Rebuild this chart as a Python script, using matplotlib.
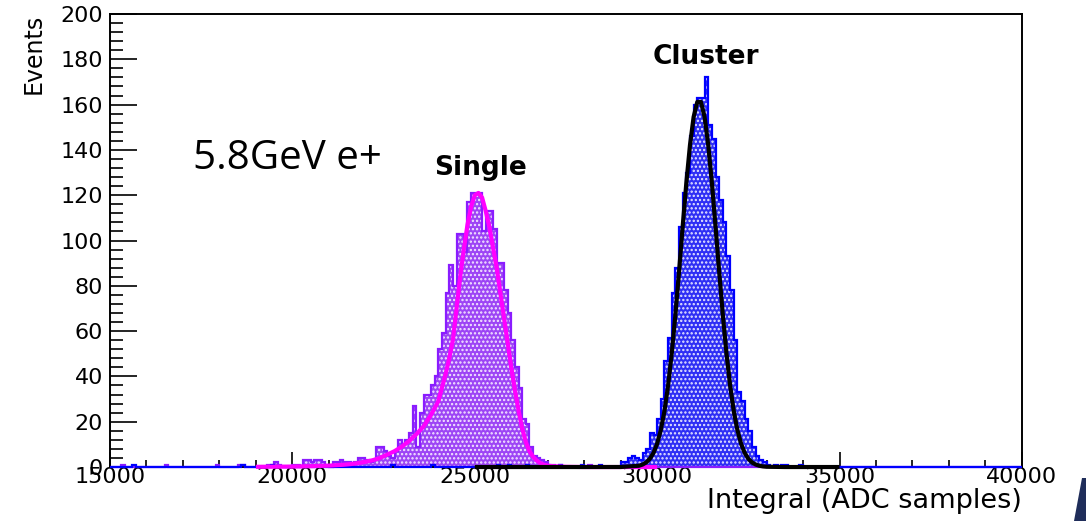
import numpy as np
import matplotlib
matplotlib.use("Agg")
import matplotlib.pyplot as plt
from matplotlib.patches import Polygon

# histogram binning (ROOT style, 100 ADC per bin)
x_lo, x_hi, bin_w = 15000, 40000, 100

# "Single" histogram, contiguous part starting at 18500
single_start = 18500
single_counts = [1, 1, 0, 0, 0, 0, 0, 0, 1, 1,          # 18500
                 2, 1, 0, 0, 0, 1, 1, 0, 3, 3,          # 19500
                 2, 3, 3, 2, 1, 0, 2, 2, 3, 2,          # 20500
                 2, 1, 2, 4, 4, 3, 2, 3, 9, 9,          # 21500
                 7, 5, 4, 7, 12, 10, 12, 15, 27, 9,     # 22500
                 24, 32, 32, 36, 40, 52, 59, 77, 89, 80,  # 23500
                 103, 103, 95, 117, 121, 121, 121, 104, 113, 113,  # 24500
                 105, 90, 90, 78, 68, 56, 44, 35, 21, 19,  # 25500
                 9, 5, 4, 3, 2, 1, 1, 0, 1, 0]          # 26500
single_sparse = [15300, 16500, 17900, 28100]

# "Cluster" histogram, contiguous part starting at 29000
cluster_start = 29000
cluster_counts = [2, 2, 4, 5, 4, 3, 6, 8, 15, 14,          # 29000
                  21, 30, 47, 57, 77, 88, 106, 121, 130, 146,  # 30000
                  160, 163, 163, 172, 151, 145, 128, 118, 108, 93,  # 31000
                  78, 56, 33, 29, 21, 16, 9, 5, 3, 2,        # 32000
                  1, 0, 1, 0, 1, 1, 0, 0, 0, 1]             # 33000
cluster_sparse = [15600, 18600, 19400, 22700, 23800, 25600, 25900,
                  26400, 27300, 27900, 28400]

# fit curves
single_fit_x = [19000, 20000, 20600, 21000, 21200, 21400, 21600, 21800, 22000,
                22200, 22400, 22600, 22800, 23000, 23200, 23400, 23600, 23800,
                24000, 24100, 24200, 24300, 24400, 24500, 24600, 24700, 24800,
                24900, 25000, 25100, 25200, 25300, 25400, 25500, 25600, 25700,
                25800, 25900, 26000, 26100, 26200, 26300, 26400, 26500, 26600,
                26700, 26800, 26900, 27000, 27200, 27500, 28000, 30000]
single_fit_y = [0.1, 0.2, 0.4, 0.6, 0.8, 1.0, 1.3, 1.7, 2.3,
                3.0, 4.0, 5.5, 7.0, 9.0, 11.5, 14.5, 18, 23,
                29, 35, 41, 48, 56, 70, 84, 96, 107,
                115, 120, 121, 119, 113, 106, 97, 88, 77,
                66, 55, 44, 34, 25, 17, 11, 7, 4.5,
                2.8, 1.7, 1.0, 0.6, 0.3, 0.1, 0.0, 0.0]

cluster_fit_x = [25000, 28000, 29000, 29500, 29600, 29700, 29800, 29900, 30000,
                 30100, 30200, 30300, 30400, 30500, 30600, 30700, 30800, 30900,
                 31000, 31100, 31200, 31300, 31400, 31500, 31600, 31700, 31800,
                 31900, 32000, 32100, 32200, 32300, 32400, 32500, 32600, 32700,
                 32800, 32900, 33000, 33500, 35000]
cluster_fit_y = [0.0, 0.0, 0.01, 0.56, 1.09, 2.03, 3.64, 6.25, 10.3,
                 16.3, 24.7, 36.0, 50.2, 67.2, 86.3, 106.3, 125.5, 142.2,
                 154.6, 161.2, 161.2, 154.6, 142.2, 125.5, 106.3, 86.3, 67.2,
                 50.2, 36.0, 24.7, 16.3, 10.3, 6.25, 3.64, 2.03, 1.09,
                 0.56, 0.27, 0.12, 0.0, 0.0]

edges = np.arange(x_lo, x_hi + bin_w, bin_w)
nb = len(edges) - 1


def build(start, counts, sparse):
    h = np.zeros(nb)
    i0 = (start - x_lo) // bin_w
    h[i0:i0 + len(counts)] = counts
    for s in sparse:
        h[(s - x_lo) // bin_w] += 1
    return h


h_single = build(single_start, single_counts, single_sparse)
h_cluster = build(cluster_start, cluster_counts, cluster_sparse)

plt.rcParams['font.family'] = ['DejaVu Sans']
plt.rcParams['hatch.linewidth'] = 1.1
fig = plt.figure(figsize=(10.86, 5.21), dpi=100)
ax = fig.add_axes([0.1013, 0.1036, 0.8397, 0.8695])

# single
ax.stairs(h_single, edges, fill=True, facecolor='#9d45f5', edgecolor='#f4e8ff',
          hatch='....', linewidth=0, zorder=2)
ax.stairs(h_single, edges, color='#8a1cff', linewidth=1.6, zorder=3, clip_on=False)
# cluster
ax.stairs(h_cluster, edges, fill=True, facecolor='#2f2ff5', edgecolor='#e8e8ff',
          hatch='....', linewidth=0, zorder=2)
ax.stairs(h_cluster, edges, color='#0000ff', linewidth=1.6, zorder=3, clip_on=False)

ax.plot(single_fit_x, single_fit_y, color='#ff00ff', lw=3, zorder=4,
        solid_capstyle='butt', clip_on=False)
ax.plot(cluster_fit_x, cluster_fit_y, color='black', lw=3, zorder=4,
        solid_capstyle='butt', clip_on=False)

ax.set_xlim(x_lo, x_hi)
ax.set_ylim(0, 200)
ax.set_xticks(np.arange(15000, 40001, 5000))
ax.set_xticks(np.arange(15000, 40001, 1000), minor=True)
ax.set_yticks(np.arange(0, 201, 20))
ax.set_yticks(np.arange(0, 201, 4), minor=True)
ax.tick_params(axis='y', which='major', direction='in', length=19.5, width=1.2,
               labelsize=16, pad=5)
ax.tick_params(axis='y', which='minor', direction='in', length=9.5, width=1.2)
ax.tick_params(axis='x', which='major', direction='in', length=10.5, width=1.2,
               labelsize=16, pad=0)
ax.tick_params(axis='x', which='minor', direction='in', length=5, width=1.2)
for sp in ax.spines.values():
    sp.set_linewidth(1.4)

ax.set_xlabel('Integral (ADC samples)', fontsize=19.5, loc='right', labelpad=1)
ax.set_ylabel('Events', fontsize=17, loc='top')
ax.yaxis.set_label_coords(-0.071, 1.0)

ax.text(17275, 136, '5.8GeV e+', fontsize=29, family=['Open Sans', 'DejaVu Sans'],
        va='center', ha='left')
ax.text(25170, 132, 'Single', fontsize=19, fontweight='bold', ha='center', va='center')
ax.text(31340, 181, 'Cluster', fontsize=19, fontweight='bold', ha='center', va='center')

# slide decoration in the bottom-right corner
fig.patches.append(Polygon([[1074 / 1086, 0], [1086 / 1086, 0], [1086 / 1086, 43 / 521],
                            [1082 / 1086, 43 / 521]], closed=True,
                           transform=fig.transFigure, facecolor='#1f2d5a',
                           edgecolor='none'))

fig.savefig('out.png', dpi=100)
